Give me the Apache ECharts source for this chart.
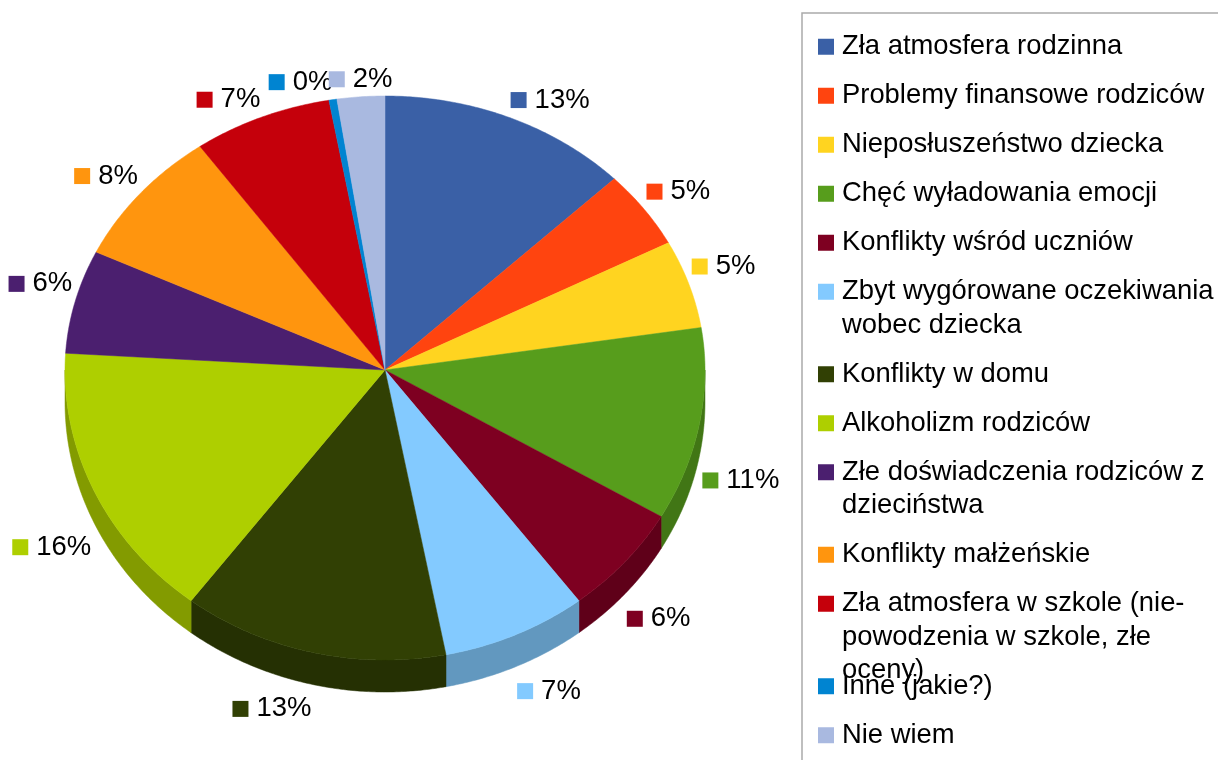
<!DOCTYPE html>
<html>
<head>
<meta charset="utf-8">
<title>Przyczyny</title>
<script src="https://cdn.jsdelivr.net/npm/echarts@6/dist/echarts.min.js"></script>
<style>
  html, body { margin: 0; padding: 0; background: #fff; }
  #chart { width: 1218px; height: 760px; }
</style>
</head>
<body>
<div id="chart"></div>
<script>
// legend names (line breaks as in the legend box)
const categories = [
  'Zła atmosfera rodzinna',
  'Problemy finansowe rodziców',
  'Nieposłuszeństwo dziecka',
  'Chęć wyładowania emocji',
  'Konflikty wśród uczniów',
  'Zbyt wygórowane oczekiwania\nwobec dziecka',
  'Konflikty w domu',
  'Alkoholizm rodziców',
  'Złe doświadczenia rodziców z\ndzieciństwa',
  'Konflikty małżeńskie',
  'Zła atmosfera w szkole (nie-\npowodzenia w szkole, złe\noceny)',
  'Inne (jakie?)',
  'Nie wiem'
]
// share of answers, %
const values = [12.7, 4.6, 5.2, 10.9, 6.2, 7.3, 13.4, 15.6, 6.1, 8.1, 7.0, 0.4, 2.4]
const colors = ['#3a60a6', '#ff440f', '#ffd420', '#579d1c', '#7e0021', '#83caff', '#314004',
  '#aecf00', '#4b1f6f', '#ff950e', '#c5000b', '#0084d1', '#a9b9e0']

const FONT = '"Liberation Sans", Arial, sans-serif'
// pie geometry (tilted ellipse + thickness)
const CX = 385, CY = 370, RX = 320, RY_TOP = 274, RY_BOT = 290, DEPTH = 32
// legend box
const LEG_LEFT = 802, LEG_TOP = 13, PAD_TOP = 17, PAD_LEFT = 11
const LINE = 33.5, GAP = 15.5, MAX_LINES = 2

function darken(hex, k) {
  const n = parseInt(hex.slice(1), 16)
  const r = Math.round(((n >> 16) & 255) * k)
  const g = Math.round(((n >> 8) & 255) * k)
  const b = Math.round((n & 255) * k)
  return 'rgb(' + r + ',' + g + ',' + b + ')'
}
const sideColors = colors.map(c => darken(c, 0.75))

const total = values.reduce((a, b) => a + b, 0)
const starts = []
let acc = 0
values.forEach(v => { starts.push(acc / total * 360); acc += v })

function pt(deg, dy) {
  const r = deg * Math.PI / 180
  const s = Math.sin(r), c = Math.cos(r)
  return [CX + RX * s, CY - (c > 0 ? RY_TOP : RY_BOT) * c + dy]
}
function arc(a, b, dy) {
  const pts = []
  const n = Math.max(2, Math.ceil((b - a) / 0.5))
  for (let k = 0; k <= n; k++) pts.push(pt(a + (b - a) * k / n, dy))
  return pts
}

function renderItem(params, api) {
  const i = params.dataIndex
  const v = api.value(0)
  const a = starts[i]
  const b = a + v / total * 360
  const children = []
  // visible side wall (front half only)
  const s0 = Math.max(a, 90), s1 = Math.min(b, 270)
  if (s1 > s0) {
    const top = arc(s0, s1, 0)
    const bottom = arc(s0, s1, DEPTH).reverse()
    children.push({
      type: 'polygon', z2: 1,
      shape: { points: top.concat(bottom) },
      style: { fill: sideColors[i], stroke: sideColors[i], lineWidth: 0.5 }
    })
  }
  // top face
  children.push({
    type: 'polygon', z2: 2,
    shape: { points: [[CX, CY]].concat(arc(a, b, 0)) },
    style: { fill: colors[i], stroke: colors[i], lineWidth: 0.5 }
  })
  // percentage label with colour key
  const m = (a + b) / 2 * Math.PI / 180
  const sn = Math.sin(m), cs = Math.cos(m)
  const upper = cs > 0
  const lx = CX + (RX + 3) * sn
  const ly = upper ? CY - RY_TOP * cs - 9 : CY - RY_BOT * cs + DEPTH + 16
  children.push({
    type: 'text', z2: 3, x: lx, y: ly,
    style: {
      text: '{s|}{g|}' + Math.round(v / total * 100) + '%',
      align: sn > 0.1 ? 'left' : (sn < -0.1 ? 'right' : 'center'),
      verticalAlign: upper ? 'bottom' : 'top',
      fontFamily: FONT, fontSize: 27.5, fill: '#000', lineHeight: 17,
      rich: {
        s: { width: 16, height: 16, backgroundColor: colors[i] },
        g: { width: 8 }
      }
    }
  })
  return { type: 'group', children }
}

const legendRich = { gp: { width: 8 }, ind: { width: 24 } }
colors.forEach((c, i) => { legendRich['sq' + i] = { width: 16, height: 16, backgroundColor: c } })

function legendText(name) {
  const i = categories.indexOf(name)
  const lines = name.split('\n')
  return '{sq' + i + '|}{gp|}' + lines.join('\n{ind|}')
}

// the legend box only reserves MAX_LINES per entry; entries after the first
// overflowing one start where the box expects them, so the extra line overlaps
const splitAt = categories.findIndex(n => n.split('\n').length > MAX_LINES) + 1
let restTop = LEG_TOP + PAD_TOP
categories.slice(0, splitAt).forEach(n => {
  restTop += Math.min(n.split('\n').length, MAX_LINES) * LINE + GAP
})

const legendBase = {
  orient: 'vertical',
  height: 1000,
  itemGap: GAP,
  itemWidth: 0,
  itemHeight: 0,
  icon: 'none',
  selectedMode: false,
  formatter: legendText,
  textStyle: { fontFamily: FONT, fontSize: 27.4, color: '#000', lineHeight: LINE, rich: legendRich }
}

const chart = echarts.init(document.getElementById('chart'))
const option = {
  backgroundColor: '#ffffff',
  animation: false,
  legend: [
    Object.assign({}, legendBase, {
      left: LEG_LEFT,
      top: LEG_TOP,
      padding: [PAD_TOP, 40, 120, PAD_LEFT],
      borderColor: '#aaaaaa',
      borderWidth: 1.5,
      data: categories.slice(0, splitAt)
    }),
    Object.assign({}, legendBase, {
      left: LEG_LEFT,
      top: restTop,
      padding: [0, 0, 0, PAD_LEFT],
      data: categories.slice(splitAt)
    })
  ],
  series: [
    {
      // carries the names for the legend only
      type: 'pie',
      center: [CX, CY],
      radius: [0, 1],
      silent: true,
      label: { show: false },
      labelLine: { show: false },
      itemStyle: { opacity: 0 },
      emphasis: { disabled: true },
      data: categories.map((n, i) => ({ name: n, value: values[i] }))
    },
    {
      type: 'custom',
      coordinateSystem: 'none',
      silent: true,
      renderItem: renderItem,
      data: values
    }
  ]
}
chart.setOption(option)
</script>
</body>
</html>
